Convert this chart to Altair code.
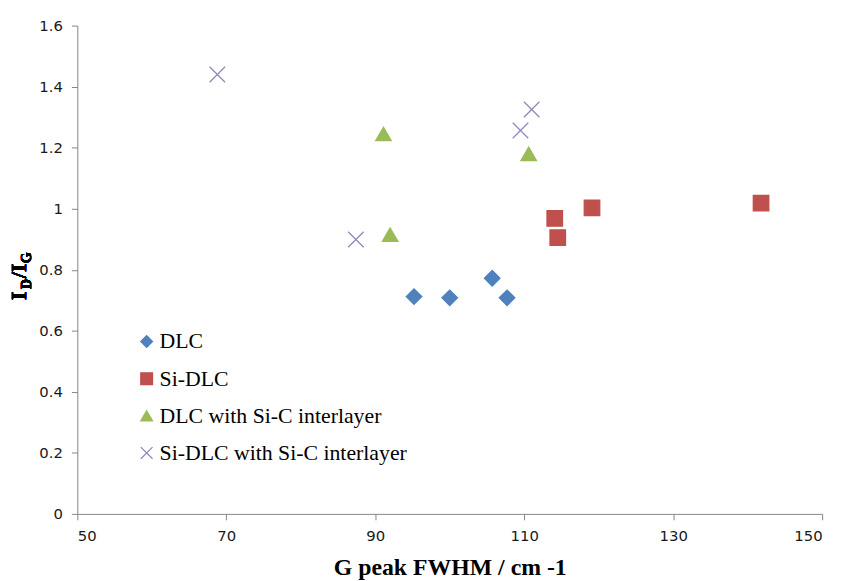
import altair as alt
import pandas as pd

# ---- data ----
dlc_x = [95.2, 100.0, 105.7, 107.7]
dlc_y = [0.712, 0.708, 0.772, 0.708]

sidlc_x = [114.1, 114.5, 119.1, 141.8]
sidlc_y = [0.968, 0.905, 1.003, 1.018]

dlc_sic_x = [91.1, 110.6, 92.0]
dlc_sic_y = [1.245, 1.180, 0.915]

sidlc_sic_x = [68.8, 111.0, 109.5, 87.4]
sidlc_sic_y = [1.440, 1.325, 1.256, 0.899]

series_names = ["DLC", "Si-DLC", "DLC with Si-C interlayer", "Si-DLC with Si-C interlayer"]
series_colors = ["#4F81BD", "#C0504D", "#9BBB59", "#9387BC"]
series_shapes = ["diamond", "square", "triangle-up", "M-1,-1L1,1M-1,1L1,-1"]

x_ticks = [50, 70, 90, 110, 130, 150]
y_ticks = [0, 0.2, 0.4, 0.6, 0.8, 1.0, 1.2, 1.4, 1.6]

rows = []
for name, xs, ys in zip(series_names,
                        [dlc_x, sidlc_x, dlc_sic_x, sidlc_sic_x],
                        [dlc_y, sidlc_y, dlc_sic_y, sidlc_sic_y]):
    for xv, yv in zip(xs, ys):
        rows.append({"series": name, "fwhm": xv, "ratio": yv})
df = pd.DataFrame(rows)

col_scale = alt.Scale(domain=series_names, range=series_colors)
shape_scale = alt.Scale(domain=series_names, range=series_shapes)

legend = alt.Legend(
    title=None, orient="none", legendX=59, legendY=308, padding=0,
    labelFont="Liberation Serif", labelFontSize=22, labelColor="black", labelLimit=500,
    symbolSize=140, symbolStrokeWidth=1.3, labelOffset=2, rowPadding=15.5,
)

points = alt.Chart(df).mark_point(filled=True, size=245, strokeWidth=1.3, opacity=1).encode(
    x=alt.X("fwhm:Q", scale=alt.Scale(domain=[50, 150], nice=False),
            axis=alt.Axis(values=x_ticks, title="G peak FWHM / cm -1", grid=False,
                          titleFont="Liberation Serif", titleFontSize=24, titleFontWeight="bold",
                          titleColor="black", titleY=61, titleBaseline="alphabetic")),
    y=alt.Y("ratio:Q", scale=alt.Scale(domain=[0, 1.6], nice=False),
            axis=alt.Axis(values=y_ticks, title=None, grid=False, format=".1~f")),
    color=alt.Color("series:N", scale=col_scale, sort=series_names, legend=legend),
    stroke=alt.Stroke("series:N", scale=col_scale, sort=series_names, legend=legend),
    shape=alt.Shape("series:N", scale=shape_scale, sort=series_names, legend=legend),
)

def title_piece(txt, x, y, size):
    return alt.Chart(df).mark_text(
        angle=270, align="left", baseline="alphabetic", font="Liberation Serif",
        fontWeight="bold", fontSize=size, color="black",
    ).encode(text=alt.value(txt), x=alt.value(x), y=alt.value(y))

ytitle = (
    title_piece("I", -52, 277, 22)
    + title_piece("D", -47, 266, 14)
    + title_piece("/I", -52, 255, 22)
    + title_piece("G", -47, 240, 14)
)

chart = alt.layer(points, ytitle).properties(
    width=752, height=493,
    autosize=alt.AutoSizeParams(type="none"),
    padding={"left": 70, "top": 15, "right": 15, "bottom": 65},
).configure_view(stroke=None).configure_axis(
    domainColor="#868686", tickColor="#868686", tickSize=6,
    labelFont="DejaVu Sans", labelFontSize=15, labelColor="#1a1a1a",
).configure_axisX(labelPadding=9).configure_axisY(labelPadding=9)

chart.save("out.html", embed_options={"renderer": "svg", "actions": False})
